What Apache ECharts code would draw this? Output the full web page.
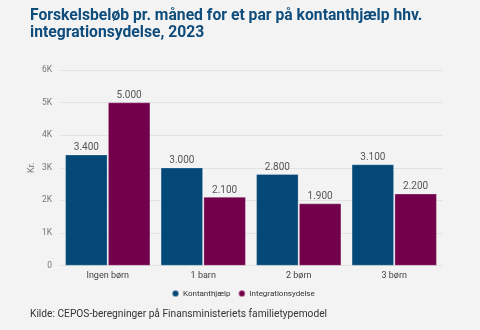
<!DOCTYPE html>
<html>
<head>
<meta charset="utf-8">
<script src="https://cdn.jsdelivr.net/npm/echarts@6/dist/echarts.min.js"></script>
<style>
html,body{margin:0;padding:0;background:#f3f3f3;}
#c{width:480px;height:330px;}
</style>
</head>
<body>
<div id="c"></div>
<script>
const categories = ['Ingen børn', '1 barn', '2 børn', '3 børn'];
const kontanthjaelp = [3400, 3000, 2800, 3100];
const integrationsydelse = [5000, 2100, 1900, 2200];
const yTicks = ['0', '1K', '2K', '3K', '4K', '5K', '6K'];

const fmt = v => String(v).replace(/\B(?=(\d{3})+(?!\d))/g, '.');
const font = 'Roboto, "Noto Sans", sans-serif';

const chart = echarts.init(document.getElementById('c'), null, {renderer: 'canvas'});
chart.setOption({
  backgroundColor: '#f3f3f3',
  animation: false,
  textStyle: {fontFamily: font},
  title: [{
    text: 'Forskelsbeløb pr. måned for et par på kontanthjælp hhv.\nintegrationsydelse, 2023',
    left: 25, top: 3,
    textStyle: {fontFamily: font, fontSize: 15.7, fontWeight: 'bold', color: '#0e4c7c', lineHeight: 17}
  }, {
    text: 'Kilde: CEPOS-beregninger på Finansministeriets familietypemodel',
    left: 25, top: 304,
    textStyle: {fontFamily: font, fontSize: 10.2, fontWeight: 'normal', color: '#333'}
  }],
  legend: {
    data: ['Kontanthjælp', 'Integrationsydelse'],
    left: 166, top: 284,
    icon: 'circle', itemWidth: 7, itemHeight: 7, itemGap: 7,
    textStyle: {fontFamily: font, fontSize: 8, color: '#333', padding: [0, 0, 0, -1]}
  },
  grid: {left: 60, right: 38, top: 70, bottom: 64.5},
  xAxis: {
    type: 'category',
    data: categories,
    axisTick: {show: false},
    axisLine: {lineStyle: {color: '#e2e2e2'}},
    axisLabel: {fontFamily: font, fontSize: 9, color: '#444', margin: 6}
  },
  yAxis: {
    type: 'value',
    min: 0, max: 6000, interval: 1000,
    name: 'Kr.',
    nameLocation: 'middle',
    nameGap: 24,
    nameMoveOverlap: false,
    nameRotate: 90,
    nameTextStyle: {fontFamily: font, fontSize: 9, color: '#777'},
    axisLabel: {
      fontFamily: font, fontSize: 8.5, color: '#777', margin: 8,
      formatter: (v) => yTicks[Math.round(v / 1000)]
    },
    splitLine: {lineStyle: {color: '#e2e2e2'}}
  },
  series: [{
    name: 'Kontanthjælp',
    type: 'bar',
    data: kontanthjaelp,
    barWidth: 42,
    barGap: '2%',
    itemStyle: {color: '#034877', borderColor: 'rgba(255,255,255,0.5)', borderWidth: 0.5},
    label: {show: true, position: 'top', distance: 2, formatter: p => fmt(p.value),
      fontFamily: font, fontSize: 10, color: '#555'}
  }, {
    name: 'Integrationsydelse',
    type: 'bar',
    data: integrationsydelse,
    barWidth: 42,
    itemStyle: {color: '#72004a', borderColor: 'rgba(255,255,255,0.5)', borderWidth: 0.5},
    label: {show: true, position: 'top', distance: 2, formatter: p => fmt(p.value),
      fontFamily: font, fontSize: 10, color: '#555'}
  }]
});
</script>
</body>
</html>
